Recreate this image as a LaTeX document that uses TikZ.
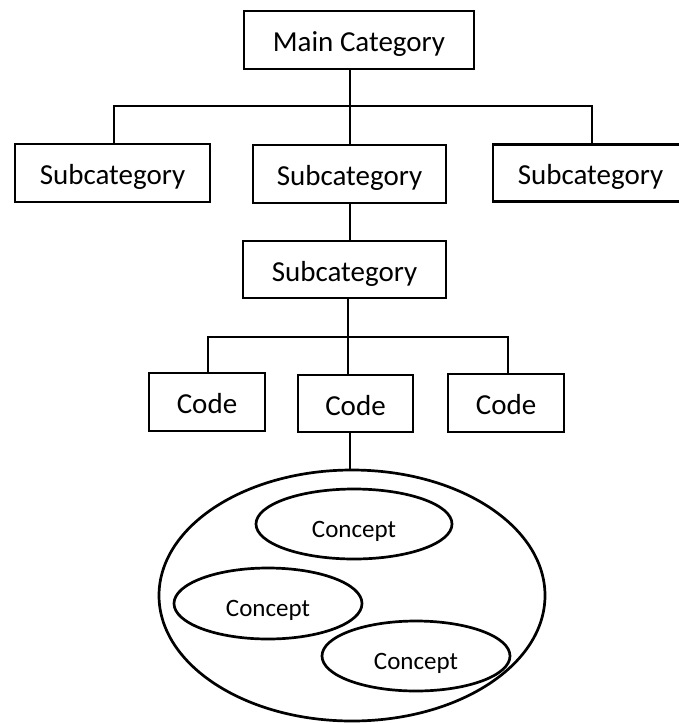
\documentclass[tikz,border=0pt]{standalone}
\usepackage{fontspec}
\setmainfont{Carlito}
\usetikzlibrary{shapes.geometric}
\begin{document}
\begin{tikzpicture}[x=1pt,y=-1pt,line width=2.7pt,
  box/.style={draw,rectangle,inner sep=0pt,text height=23pt,text depth=0pt,
    font=\fontsize{29}{34}\selectfont},
  concept/.style={draw,ellipse,inner sep=0pt,text height=26pt,text depth=0pt,
    font=\fontsize{25}{30}\selectfont}]
\useasboundingbox (0,0) rectangle (678,723);
% category tree
\node[box,minimum width=230pt,minimum height=58pt] (main) at (359,40) {Main Category};
\node[box,minimum width=195pt,minimum height=58pt] (s1) at (112.5,173) {Subcategory};
\node[box,minimum width=193pt,minimum height=58pt] (s2) at (349.5,174) {Subcategory};
\node[box,minimum width=195pt,minimum height=57pt] (s3) at (590.5,173) {Subcategory};
\node[box,minimum width=203pt,minimum height=57pt] (s4) at (344.5,269.5) {Subcategory};
% codes
\node[box,minimum width=116pt,minimum height=58pt] (c1) at (207,402) {Code};
\node[box,minimum width=115pt,minimum height=57pt] (c2) at (355.5,403.5) {Code};
\node[box,minimum width=116pt,minimum height=58pt] (c3) at (506,403) {Code};
% concept cluster
\node[draw,ellipse,minimum width=386pt,minimum height=251pt,inner sep=0pt] (cl) at (352,595.5) {};
\node[concept,minimum width=196pt,minimum height=70pt] (k1) at (354,524) {Concept};
\node[concept,minimum width=188pt,minimum height=71pt] (k2) at (268,603.5) {Concept};
\node[concept,minimum width=188pt,minimum height=70pt] (k3) at (416,656) {Concept};
% connectors
\coordinate (h1) at (350,106);
\coordinate (h2) at (348,337);
\draw (main.south -| h1) -- (h1);
\draw (s1.north -| 114,0) |- (h1) -| (s3.north -| 592,0);
\draw (h1) -- (s2.north -| h1);
\draw (s2.south -| 350,0) -- (s4.north -| 350,0);
\draw (s4.south -| h2) -- (h2);
\draw (c1.north -| 208,0) |- (h2) -| (c3.north -| 508,0);
\draw (h2) -- (c2.north -| h2);
\draw (c2.south -| 350,0) -- (cl.north -| 350,0);
\end{tikzpicture}
\end{document}
